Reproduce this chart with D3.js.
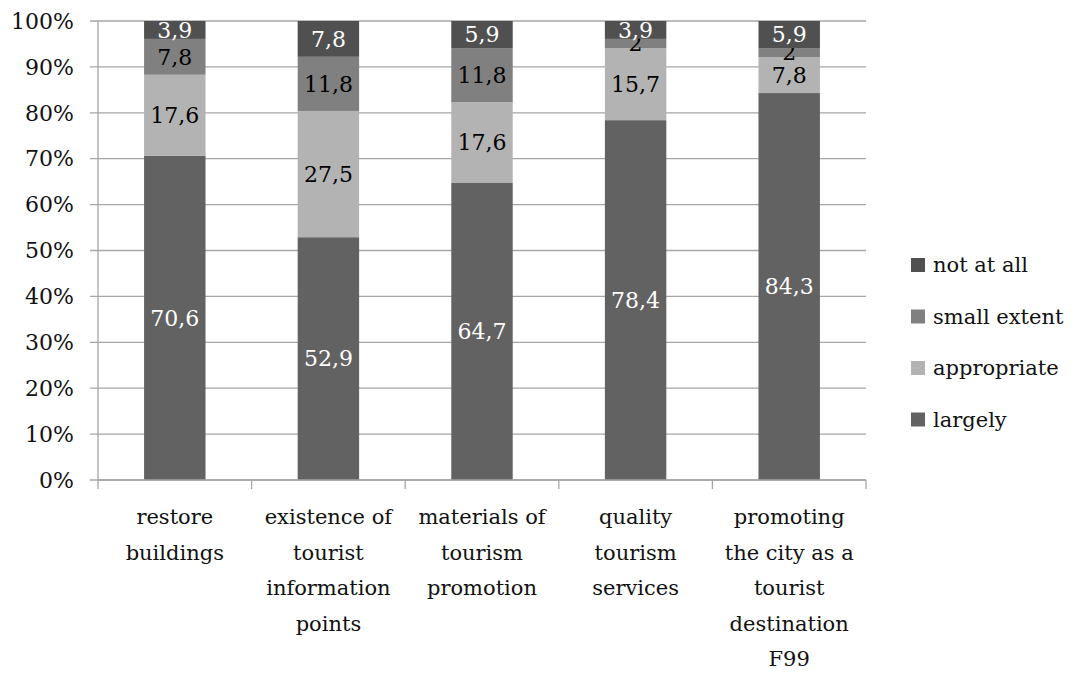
<!DOCTYPE html>
<html>
<head>
<meta charset="utf-8">
<script src="https://cdn.jsdelivr.net/npm/d3@7"></script>
<style>
  body { margin: 0; background: #fff; }
</style>
</head>
<body>
<div id="chart"></div>
<script>
const categories = [
  ["restore", "buildings"],
  ["existence of", "tourist", "information", "points"],
  ["materials of", "tourism", "promotion"],
  ["quality", "tourism", "services"],
  ["promoting", "the city as a", "tourist", "destination", "F99"]
];
const seriesNames = ["largely", "appropriate", "small extent", "not at all"];
const largely     = [70.6, 52.9, 64.7, 78.4, 84.3];
const appropriate = [17.6, 27.5, 17.6, 15.7, 7.8];
const smallExtent = [7.8, 11.8, 11.8, 2, 2];
const notAtAll    = [3.9, 7.8, 5.9, 3.9, 5.9];
const yTicks = [0, 10, 20, 30, 40, 50, 60, 70, 80, 90, 100];

const colors = ["#626262", "#b3b3b3", "#808080", "#505050"];
const labelColors = ["#fff", "#000", "#000", "#fff"];
const font = "'DejaVu Serif', 'Liberation Serif', serif";

const width = 1083, height = 674;
const margin = { left: 98, right: 217, top: 21, bottom: 194 };

const rows = categories.map((c, i) => ({
  idx: i,
  "largely": largely[i],
  "appropriate": appropriate[i],
  "small extent": smallExtent[i],
  "not at all": notAtAll[i]
}));

const stacked = d3.stack().keys(seriesNames).offset(d3.stackOffsetExpand)(rows);

const svg = d3.select("#chart").append("svg")
  .attr("width", width).attr("height", height)
  .attr("font-family", font);

const x = d3.scaleBand()
  .domain(d3.range(categories.length))
  .range([margin.left, width - margin.right])
  .paddingInner(0.6).paddingOuter(0.3);

const y = d3.scaleLinear().domain([0, 1]).range([height - margin.bottom, margin.top]);

// gridlines
svg.append("g").selectAll("line")
  .data(yTicks)
  .enter().append("line")
  .attr("x1", margin.left - 8).attr("x2", width - margin.right)
  .attr("y1", d => y(d / 100)).attr("y2", d => y(d / 100))
  .attr("stroke", "#a6a6a6").attr("stroke-width", 1.3);

// y axis line
svg.append("line")
  .attr("x1", margin.left).attr("x2", margin.left)
  .attr("y1", y(1)).attr("y2", y(0))
  .attr("stroke", "#a6a6a6").attr("stroke-width", 1.3);

// y labels
svg.append("g").selectAll("text")
  .data(yTicks)
  .enter().append("text")
  .attr("x", margin.left - 24).attr("y", d => y(d / 100))
  .attr("dy", "0.35em").attr("text-anchor", "end")
  .attr("font-size", 22).attr("fill", "#111")
  .text(d => d + "%");

// bars
const layer = svg.append("g").selectAll("g")
  .data(stacked)
  .enter().append("g")
  .attr("fill", (d, i) => colors[i]);

layer.selectAll("rect")
  .data(d => d)
  .enter().append("rect")
  .attr("x", d => x(d.data.idx))
  .attr("width", x.bandwidth())
  .attr("y", d => y(d[1]))
  .attr("height", d => y(d[0]) - y(d[1]));

// x axis line and ticks
const xBase = y(0);
svg.append("line")
  .attr("x1", margin.left).attr("x2", width - margin.right)
  .attr("y1", xBase).attr("y2", xBase)
  .attr("stroke", "#a6a6a6").attr("stroke-width", 1.3);

const boundaries = d3.range(categories.length + 1).map(i => margin.left + i * (width - margin.left - margin.right) / categories.length);
svg.append("g").selectAll("line")
  .data(boundaries)
  .enter().append("line")
  .attr("x1", d => d).attr("x2", d => d)
  .attr("y1", xBase).attr("y2", xBase + 9)
  .attr("stroke", "#a6a6a6").attr("stroke-width", 1.3);

// segment labels
layer.each(function(s, si) {
  d3.select(this).selectAll("text")
    .data(s)
    .enter().append("text")
    .attr("x", d => x(d.data.idx) + x.bandwidth() / 2)
    .attr("y", d => (y(d[0]) + y(d[1])) / 2)
    .attr("dy", "0.35em")
    .attr("text-anchor", "middle")
    .attr("font-size", 22)
    .attr("fill", labelColors[si])
    .text(d => String(d.data[s.key]).replace(".", ","));
});

// category labels
const cat = svg.append("g").selectAll("text")
  .data(categories)
  .enter().append("text")
  .attr("text-anchor", "middle")
  .attr("font-size", 21).attr("fill", "#111")
  .attr("x", (d, i) => x(i) + x.bandwidth() / 2)
  .attr("y", xBase + 44);

cat.selectAll("tspan")
  .data(d => d)
  .enter().append("tspan")
  .attr("x", function() { return d3.select(this.parentNode).attr("x"); })
  .attr("dy", (d, i) => i === 0 ? 0 : 35.5)
  .text(d => d);

// legend
const legendItems = seriesNames.slice().reverse();
const legend = svg.append("g").selectAll("g")
  .data(legendItems)
  .enter().append("g")
  .attr("transform", (d, i) => `translate(911, ${265 + i * 51.5})`);

legend.append("rect")
  .attr("x", 0).attr("y", -7).attr("width", 14).attr("height", 14)
  .attr("fill", d => colors[seriesNames.indexOf(d)]);

legend.append("text")
  .attr("x", 22).attr("dy", "0.35em")
  .attr("font-size", 21).attr("fill", "#111")
  .text(d => d);
</script>
</body>
</html>
